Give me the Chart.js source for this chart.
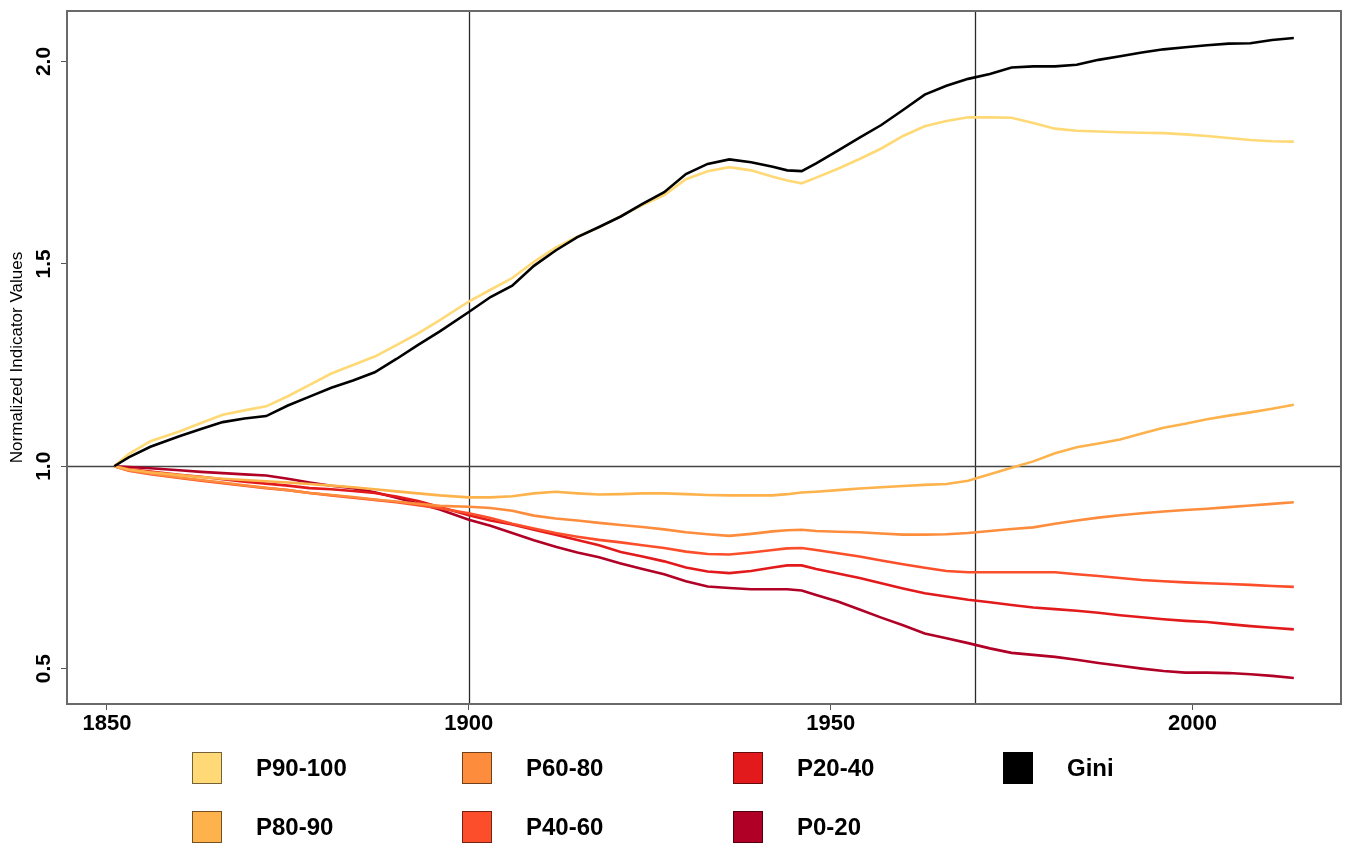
<!DOCTYPE html>
<html>
<head>
<meta charset="utf-8">
<script src="https://cdn.jsdelivr.net/npm/chart.js@4/dist/chart.umd.min.js"></script>
<style>
  html, body { margin: 0; padding: 0; background: #fff; }
  canvas { display: block; }
</style>
</head>
<body>
<canvas id="c" width="1347" height="844"></canvas>
<script>
// Years of observation
const years = [1851,1853,1856,1860,1863,1866,1869,1872,1875,1878,
  1881,1884,1887,1890,1893,1896,1900,1903,1906,1909,
  1912,1915,1918,1921,1924,1927,1930,1933,1936,1939,
  1942,1944,1946,1948,1951,1954,1957,1960,1963,1966,
  1969,1972,1975,1978,1981,1984,1987,1990,1993,1996,
  1999,2002,2005,2008,2011,2014];

// Normalized indicator values (1851 = 1)
const gini = [1.000,1.022,1.048,1.074,1.092,1.109,1.118,1.124,1.150,1.172,
  1.194,1.212,1.232,1.265,1.300,1.333,1.381,1.418,1.446,1.495,
  1.533,1.566,1.591,1.617,1.648,1.677,1.722,1.747,1.758,1.751,
  1.740,1.731,1.729,1.748,1.780,1.812,1.843,1.880,1.918,1.940,
  1.957,1.969,1.985,1.988,1.988,1.992,2.004,2.013,2.022,2.030,
  2.035,2.040,2.044,2.045,2.053,2.058];

const p90_100 = [1.000,1.030,1.062,1.086,1.107,1.127,1.138,1.148,1.173,1.201,
  1.229,1.250,1.271,1.299,1.328,1.361,1.407,1.436,1.465,1.505,
  1.540,1.567,1.590,1.618,1.645,1.670,1.709,1.729,1.739,1.731,
  1.715,1.706,1.699,1.713,1.735,1.759,1.785,1.816,1.840,1.853,
  1.862,1.862,1.861,1.848,1.834,1.829,1.827,1.825,1.824,1.823,
  1.820,1.816,1.811,1.806,1.803,1.802];

const p80_90 = [1.000,0.992,0.985,0.978,0.973,0.969,0.966,0.963,0.960,0.956,
  0.952,0.948,0.943,0.938,0.933,0.928,0.923,0.923,0.926,0.933,
  0.937,0.933,0.930,0.931,0.933,0.933,0.931,0.929,0.928,0.928,
  0.928,0.931,0.935,0.937,0.941,0.945,0.948,0.951,0.954,0.956,
  0.964,0.980,0.996,1.012,1.032,1.047,1.056,1.066,1.081,1.095,
  1.105,1.116,1.125,1.133,1.142,1.152];

const p60_80 = [1.000,0.990,0.982,0.972,0.966,0.960,0.953,0.947,0.941,0.934,
  0.929,0.924,0.918,0.913,0.907,0.902,0.900,0.897,0.890,0.878,
  0.871,0.866,0.860,0.855,0.850,0.844,0.837,0.832,0.828,0.833,
  0.839,0.842,0.843,0.840,0.838,0.837,0.834,0.831,0.831,0.832,
  0.835,0.840,0.845,0.849,0.858,0.866,0.873,0.879,0.884,0.888,
  0.892,0.895,0.899,0.903,0.907,0.911];

const p40_60 = [1.000,0.989,0.980,0.971,0.964,0.958,0.952,0.946,0.941,0.934,
  0.928,0.922,0.917,0.911,0.904,0.896,0.884,0.872,0.858,0.846,
  0.835,0.826,0.818,0.812,0.805,0.798,0.789,0.783,0.782,0.787,
  0.793,0.797,0.798,0.793,0.785,0.777,0.767,0.758,0.749,0.741,
  0.738,0.738,0.738,0.738,0.738,0.733,0.729,0.724,0.719,0.716,
  0.713,0.711,0.709,0.707,0.704,0.702];

const p20_40 = [1.000,0.993,0.987,0.979,0.974,0.968,0.962,0.957,0.952,0.946,
  0.943,0.939,0.934,0.925,0.914,0.899,0.879,0.866,0.856,0.843,
  0.831,0.818,0.805,0.788,0.777,0.765,0.750,0.740,0.736,0.741,
  0.750,0.755,0.755,0.746,0.735,0.724,0.711,0.698,0.686,0.678,
  0.670,0.664,0.657,0.651,0.647,0.643,0.638,0.632,0.627,0.622,
  0.618,0.615,0.610,0.605,0.601,0.597];

const p0_20 = [1.000,0.998,0.995,0.990,0.986,0.983,0.980,0.977,0.969,0.960,
  0.952,0.946,0.936,0.922,0.908,0.893,0.868,0.853,0.835,0.817,
  0.801,0.787,0.775,0.760,0.746,0.733,0.716,0.703,0.699,0.696,
  0.696,0.696,0.693,0.682,0.666,0.646,0.626,0.607,0.587,0.575,
  0.563,0.550,0.539,0.534,0.529,0.522,0.514,0.507,0.500,0.494,
  0.490,0.490,0.489,0.486,0.482,0.477];

const xTicks = [1850, 1900, 1950, 2000];
const yTicks = [0.5, 1.0, 1.5, 2.0];
const refYears = [1900, 1970];
const refValue = 1.0;

const series = [
  { label: 'Gini',    values: gini,    color: '#000000' },
  { label: 'P90-100', values: p90_100, color: '#FED976' },
  { label: 'P80-90',  values: p80_90,  color: '#FEB24C' },
  { label: 'P60-80',  values: p60_80,  color: '#FD8D3C' },
  { label: 'P40-60',  values: p40_60,  color: '#FC4E2A' },
  { label: 'P20-40',  values: p20_40,  color: '#E31A1C' },
  { label: 'P0-20',   values: p0_20,   color: '#B10026' }
];

// legend grid: columns of two entries each
const legendColumns = [['P90-100', 'P80-90'], ['P60-80', 'P40-60'], ['P20-40', 'P0-20'], ['Gini']];

const FONT = '"Liberation Sans", Arial, sans-serif';

const decorations = {
  id: 'decorations',
  beforeDatasetsDraw(chart) {
    const { ctx, chartArea: a, scales: { x, y } } = chart;
    ctx.save();
    ctx.strokeStyle = '#2a2a2a';
    ctx.lineWidth = 1.3;
    refYears.forEach(yr => {
      const px = Math.round(x.getPixelForValue(yr)) + 0.5;
      ctx.beginPath(); ctx.moveTo(px, a.top); ctx.lineTo(px, a.bottom); ctx.stroke();
    });
    ctx.strokeStyle = '#444';
    const py = Math.round(y.getPixelForValue(refValue)) + 0.5;
    ctx.beginPath(); ctx.moveTo(a.left, py); ctx.lineTo(a.right, py); ctx.stroke();
    ctx.restore();
  },
  afterDraw(chart) {
    const { ctx, chartArea: a, scales: { y } } = chart;
    ctx.save();
    // plot frame
    ctx.strokeStyle = '#6a6a6a';
    ctx.lineWidth = 2;
    ctx.strokeRect(a.left, a.top, a.right - a.left, a.bottom - a.top);

    // y tick labels, rotated
    ctx.fillStyle = '#000';
    ctx.font = 'bold 21px ' + FONT;
    ctx.textAlign = 'center';
    ctx.textBaseline = 'middle';
    yTicks.forEach(v => {
      const py = y.getPixelForValue(v);
      ctx.save();
      ctx.translate(44, py);
      ctx.rotate(-Math.PI / 2);
      ctx.fillText(v.toFixed(1), 0, 0);
      ctx.restore();
    });

    // y axis title
    ctx.save();
    ctx.font = '17px ' + FONT;
    ctx.translate(17, (a.top + a.bottom) / 2);
    ctx.rotate(-Math.PI / 2);
    ctx.fillText('Normalized Indicator Values', 0, 0);
    ctx.restore();

    // legend
    const colX = [192, 462, 733, 1003];
    const rowY = [768, 827];
    ctx.font = 'bold 24px ' + FONT;
    ctx.textAlign = 'left';
    legendColumns.forEach((col, ci) => {
      col.forEach((name, ri) => {
        const ds = chart.data.datasets.find(d => d.label === name);
        const sx = colX[ci], sy = rowY[ri];
        ctx.fillStyle = ds.borderColor;
        ctx.fillRect(sx, sy - 16, 30, 32);
        ctx.strokeStyle = 'rgba(0,0,0,0.55)';
        ctx.lineWidth = 1;
        ctx.strokeRect(sx + 0.5, sy - 15.5, 29, 31);
        ctx.fillStyle = '#000';
        ctx.fillText(name, sx + 64, sy + 1);
      });
    });
    ctx.restore();
  }
};

new Chart(document.getElementById('c'), {
  type: 'line',
  data: {
    datasets: series.map(s => ({
      label: s.label,
      data: years.map((yr, i) => ({ x: yr, y: s.values[i] })),
      borderColor: s.color,
      backgroundColor: s.color,
      borderWidth: 2.6,
      pointRadius: 0,
      tension: 0,
      fill: false
    }))
  },
  options: {
    responsive: false,
    animation: false,
    devicePixelRatio: 1,
    layout: { padding: { top: 11, right: 6, left: 0, bottom: 0 } },
    plugins: { legend: { display: false }, tooltip: { enabled: false } },
    scales: {
      x: {
        type: 'linear',
        min: 1844.48,
        max: 2020.52,
        afterBuildTicks: s => { s.ticks = xTicks.map(v => ({ value: v })); },
        afterFit: s => { s.height = 140; },
        ticks: {
          autoSkip: false, maxRotation: 0, minRotation: 0, padding: 1,
          color: '#000',
          font: { family: FONT, size: 22, weight: 'bold' },
          callback: v => String(v)
        },
        grid: { drawOnChartArea: false, drawTicks: true, tickLength: 6, color: '#555', lineWidth: 1 },
        border: { display: false }
      },
      y: {
        type: 'linear',
        min: 0.4126,
        max: 2.1247,
        afterBuildTicks: s => { s.ticks = yTicks.map(v => ({ value: v })); },
        afterFit: s => { s.width = 67; },
        ticks: { callback: () => '', padding: 0 },
        grid: { drawOnChartArea: false, drawTicks: true, tickLength: 6, color: '#555', lineWidth: 1 },
        border: { display: false }
      }
    }
  },
  plugins: [decorations]
});
</script>
</body>
</html>
